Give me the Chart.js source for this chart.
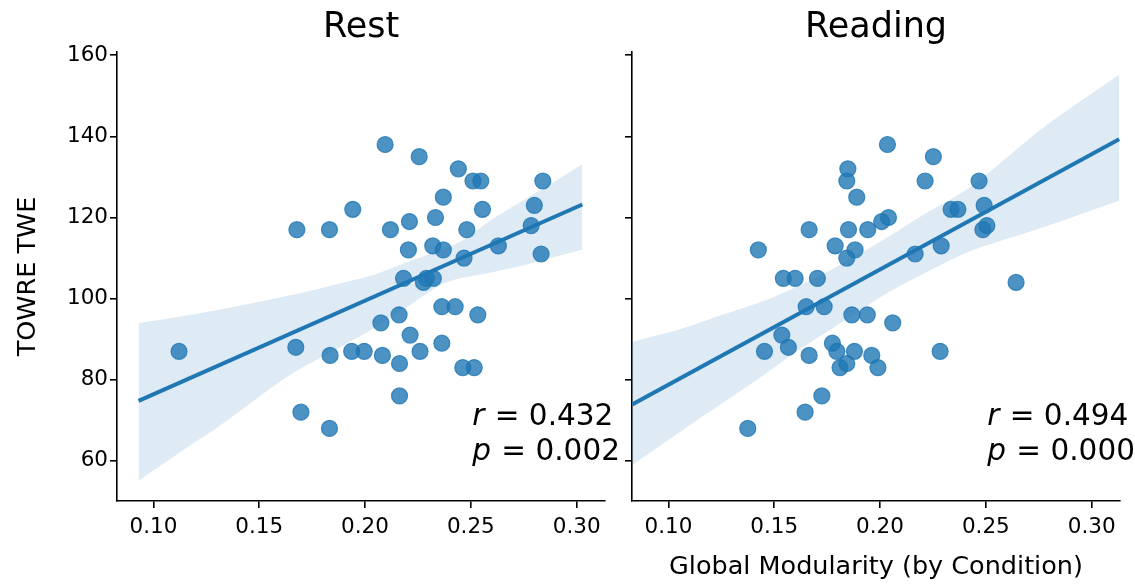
<!DOCTYPE html>
<html><head><meta charset="utf-8">
<script src="https://cdn.jsdelivr.net/npm/chart.js@4.4.1/dist/chart.umd.min.js"></script>
<style>
html,body{margin:0;padding:0;background:#fff;}
#wrap{position:relative;width:1135px;height:584px;overflow:hidden;background:#fff;}
#c1{position:absolute;left:0;top:0;}
#c2{position:absolute;left:612px;top:0;}
</style></head><body>
<div id="wrap"><canvas id="c1" width="625" height="584"></canvas><canvas id="c2" width="523" height="584"></canvas></div>
<script>
// ---- data ----
const panelTitles = ['Rest', 'Reading'];
const xTicks = [0.10, 0.15, 0.20, 0.25, 0.30];
const yTicks = [60, 80, 100, 120, 140, 160];
const xLabel = 'Global Modularity (by Condition)';
const yLabel = 'TOWRE TWE';

const restX = [0.2095,0.2256,0.2441,0.2510,0.2547,0.2840,0.2370,0.1942,0.2555,0.2800,0.1678,0.1832,0.2120,0.2210,0.2333,0.2481,0.2785,0.2205,0.2320,0.2370,0.2468,0.2630,0.2832,0.2182,0.2276,0.2290,0.2323,0.1121,0.1673,0.1835,0.1937,0.1996,0.2075,0.2082,0.2161,0.2163,0.2213,0.2260,0.2363,0.2426,0.2533,0.2363,0.2462,0.2516,0.2163,0.1697,0.1832];
const restY = [138,135,132,129,129,129,125,122,122,123,117,117,117,119,120,117,118,112,113,112,110,113,111,105,104,105,105,87,88,86,87,87,94,86,96,84,91,87,98,98,96,89,83,83,76,72,68];

const readX = [0.2035,0.2252,0.1848,0.1843,0.2213,0.2468,0.1890,0.2336,0.2368,0.2492,0.2040,0.2008,0.1665,0.1851,0.1942,0.2505,0.2486,0.1425,0.1788,0.1882,0.1843,0.2166,0.2289,0.2643,0.1543,0.1599,0.1704,0.1651,0.1736,0.1867,0.1940,0.2060,0.1536,0.1454,0.1567,0.1665,0.1775,0.1796,0.1879,0.1961,0.1811,0.1843,0.1990,0.2284,0.1725,0.1646,0.1375];
const readY = [138,135,132,129,129,129,125,122,122,123,120,119,117,117,117,118,117,112,113,112,110,111,113,104,105,105,105,98,98,96,96,94,91,87,88,86,89,87,87,86,83,84,83,87,76,72,68];

const restFitX = [0.0930, 0.3027];
const restFitY = [74.8, 123.2];
const readFitX = [0.0829, 0.3130];
const readFitY = [73.9, 139.3];

const restBandX    = [0.0930,0.1150,0.1316,0.1647,0.1900,0.2040,0.2200,0.2355,0.2450,0.2600,0.2750,0.2900,0.3027];
const restBandLow  = [55.1,63.0,68.7,81.2,88.5,92.6,98.0,103.3,105.0,106.5,108.2,110.3,112.1];
const restBandHigh = [94.0,95.8,97.3,100.8,104.0,105.8,109.0,112.0,114.0,119.5,124.3,129.0,133.1];

const readBandX    = [0.0829,0.1065,0.1254,0.1459,0.1622,0.1800,0.2016,0.2200,0.2426,0.2772,0.3130];
const readBandLow  = [59.0,67.5,74.2,81.5,87.5,93.5,100.8,106.0,111.7,117.6,124.2];
const readBandHigh = [89.3,92.6,96.0,99.6,103.3,108.0,114.5,120.5,127.5,142.2,155.2];

const statR = ['0.432', '0.494'];
const statP = ['0.002', '0.000'];

// ---- drawing ----
const FONT = '"DejaVu Sans", sans-serif';
const BLUE = '#1f77b4';
const pts = (xs, ys) => xs.map((x, i) => ({x: x, y: ys[i]}));

const textPlugin = {
  id: 'panelText',
  afterDraw(chart, args, o) {
    const ctx = chart.ctx, a = chart.chartArea;
    ctx.save();
    ctx.fillStyle = '#000';
    ctx.textBaseline = 'alphabetic';
    ctx.textAlign = 'center';
    ctx.font = '35px ' + FONT;
    ctx.fillText(o.title, (a.left + a.right) / 2, 37);
    ctx.textAlign = 'left';
    const x0 = a.left + 0.728 * (a.right - a.left);
    const lines = [['r', ' = ' + o.r, 0.17], ['p', ' = ' + o.p, 0.092]];
    lines.forEach(([v, rest, fy]) => {
      const y = a.bottom - fy * (a.bottom - a.top);
      ctx.font = 'italic 29.5px ' + FONT;
      ctx.fillText(v, x0, y);
      const w = ctx.measureText(v).width;
      ctx.font = '29.5px ' + FONT;
      ctx.fillText(rest, x0 + w + 1, y);
    });
    ctx.restore();
  }
};

function makePanel(id, idx, xs, ys, fx, fy, bx, blo, bhi, isRight) {
  return new Chart(document.getElementById(id), {
    type: 'line',
    data: {
      datasets: [
        {data: pts(fx, fy), borderColor: BLUE, borderWidth: 4, pointRadius: 0, fill: false, tension: 0, borderCapStyle: 'butt'},
        {data: pts(bx, bhi), borderColor: 'rgba(0,0,0,0)', borderWidth: 0, pointRadius: 0, fill: '+1', backgroundColor: 'rgba(31,119,180,0.15)', tension: 0.3},
        {data: pts(bx, blo), borderColor: 'rgba(0,0,0,0)', borderWidth: 0, pointRadius: 0, fill: false, tension: 0.3},
        {data: pts(xs, ys), showLine: false, pointRadius: 8, pointHoverRadius: 8, pointBorderWidth: 1.2,
         pointBackgroundColor: 'rgba(31,119,180,0.8)', pointBorderColor: 'rgba(31,119,180,0.8)'}
      ]
    },
    options: {
      responsive: false, animation: false, devicePixelRatio: 1,
      layout: {padding: {top: 52, right: isRight ? 15 : 20, bottom: 0, left: 0}},
      plugins: {legend: {display: false}, tooltip: {enabled: false}, title: {display: false},
        panelText: {title: panelTitles[idx], r: statR[idx], p: statP[idx]}},
      scales: {
        x: {
          type: 'linear', min: 0.0828, max: 0.3134,
          afterBuildTicks: s => { s.ticks = xTicks.map(v => ({value: v})); },
          afterFit: s => { s.height = 83; },
          ticks: {callback: v => Number(v).toFixed(2), font: {family: FONT, size: 21.5}, color: '#000', padding: 7, maxRotation: 0, autoSkip: false},
          grid: {drawOnChartArea: false, drawTicks: true, tickLength: 7, color: '#000', lineWidth: 1.6},
          border: {display: true, color: '#000', width: 1.6},
          title: {display: isRight, text: xLabel, font: {family: FONT, size: 25.5}, color: '#000', padding: {top: 0, bottom: 1}}
        },
        y: {
          type: 'linear', min: 50.1, max: 160.8,
          afterBuildTicks: s => { s.ticks = yTicks.map(v => ({value: v})); },
          afterFit: s => { s.width = isRight ? 20 : 117; },
          ticks: {callback: v => isRight ? '' : String(v), font: {family: FONT, size: 21.5}, color: '#000', padding: 2, autoSkip: false},
          grid: {drawOnChartArea: false, drawTicks: true, tickLength: 7, color: '#000', lineWidth: 1.6},
          border: {display: true, color: '#000', width: 1.6},
          title: {display: !isRight, text: yLabel, font: {family: FONT, size: 25.5}, color: '#000', padding: {top: 13.5, bottom: 0}}
        }
      }
    },
    plugins: [textPlugin]
  });
}

makePanel('c1', 0, restX, restY, restFitX, restFitY, restBandX, restBandLow, restBandHigh, false);
makePanel('c2', 1, readX, readY, readFitX, readFitY, readBandX, readBandLow, readBandHigh, true);
</script>
</body></html>
